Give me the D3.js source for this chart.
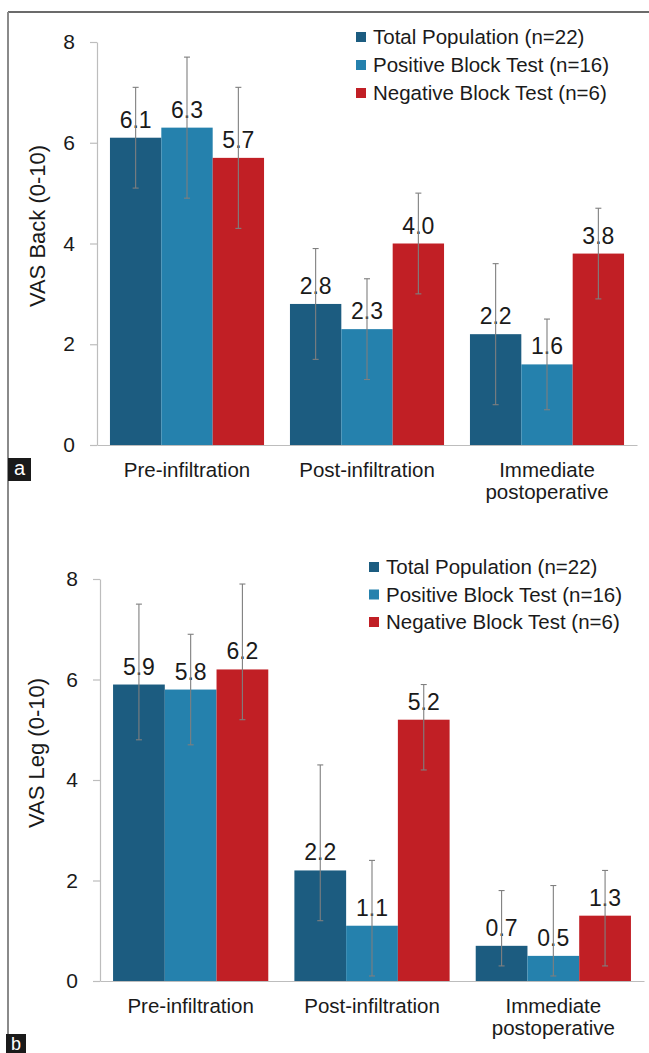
<!DOCTYPE html>
<html>
<head>
<meta charset="utf-8">
<script src="https://cdn.jsdelivr.net/npm/d3@7"></script>
<style>
  html, body { margin: 0; padding: 0; background: #fff; }
  svg { display: block; font-family: "Liberation Sans", Arial, sans-serif; }
</style>
</head>
<body>
<svg id="chart" width="649" height="1053"></svg>
<script>
// ---- data ----
const categories = ["Pre-infiltration", "Post-infiltration", "Immediate\npostoperative"];
const seriesNames = ["Total Population (n=22)", "Positive Block Test (n=16)", "Negative Block Test (n=6)"];
const seriesColors = ["#1c5c80", "#2581ad", "#c11f25"];
const yTicks = [0, 2, 4, 6, 8];

// Panel a: VAS Back
const backTotal = [6.1, 2.8, 2.2];
const backPositive = [6.3, 2.3, 1.6];
const backNegative = [5.7, 4.0, 3.8];
const backTotalLow = [5.1, 1.7, 0.8];
const backTotalHigh = [7.1, 3.9, 3.6];
const backPositiveLow = [4.9, 1.3, 0.7];
const backPositiveHigh = [7.7, 3.3, 2.5];
const backNegativeLow = [4.3, 3.0, 2.9];
const backNegativeHigh = [7.1, 5.0, 4.7];

// Panel b: VAS Leg
const legTotal = [5.9, 2.2, 0.7];
const legPositive = [5.8, 1.1, 0.5];
const legNegative = [6.2, 5.2, 1.3];
const legTotalLow = [4.8, 1.2, 0.3];
const legTotalHigh = [7.5, 4.3, 1.8];
const legPositiveLow = [4.7, 0.1, 0.1];
const legPositiveHigh = [6.9, 2.4, 1.9];
const legNegativeLow = [5.2, 4.2, 0.3];
const legNegativeHigh = [7.9, 5.9, 2.2];

const svg = d3.select("#chart");
const FONT = "'Liberation Sans', Arial, sans-serif";

// frame lines
svg.append("line").attr("x1", 8).attr("x2", 649).attr("y1", 12).attr("y2", 12)
  .attr("stroke", "#3a3a3a").attr("stroke-width", 1.5);
svg.append("line").attr("x1", 8).attr("x2", 8).attr("y1", 12).attr("y2", 1053)
  .attr("stroke", "#8a8a8a").attr("stroke-width", 2);

function drawPanel(cfg) {
  const g = svg.append("g");
  const x0 = d3.scaleBand().domain(categories).range([cfg.left, cfg.right])
    .paddingInner(0.144).paddingOuter(0.072);
  const x1 = d3.scaleBand().domain(seriesNames).range([0, x0.bandwidth()]);
  const y = d3.scaleLinear().domain([0, 8]).range([cfg.bottom, cfg.top]);

  // y axis
  const ya = g.append("g").attr("transform", `translate(${cfg.left},0)`)
    .call(d3.axisLeft(y).tickValues(yTicks).tickSize(7).tickSizeOuter(0).tickPadding(15).tickFormat(d3.format("d")));
  ya.select(".domain").attr("stroke", "#bdbdbd").attr("stroke-width", 1.2);
  ya.selectAll(".tick line").attr("stroke", "#bdbdbd").attr("stroke-width", 1.2);
  ya.selectAll(".tick text").attr("fill", "#1a1a1a").style("font-size", "21px").style("font-family", FONT);

  // x axis line
  const xa = g.append("g").attr("transform", `translate(0,${cfg.bottom})`)
    .call(d3.axisBottom(x0).tickSize(0).tickFormat(""));
  xa.select(".domain").attr("stroke", "#bdbdbd").attr("stroke-width", 1.2);

  // bars
  const rows = categories.map((c, i) => ({
    cat: c,
    vals: seriesNames.map((s, j) => ({
      s, v: cfg.values[j][i], lo: cfg.lows[j][i], hi: cfg.highs[j][i], color: seriesColors[j]
    }))
  }));
  const grp = g.selectAll(".grp").data(rows).join("g")
    .attr("transform", d => `translate(${x0(d.cat)},0)`);
  grp.selectAll("rect").data(d => d.vals).join("rect")
    .attr("x", d => x1(d.s)).attr("width", x1.bandwidth())
    .attr("y", d => y(d.v)).attr("height", d => y(0) - y(d.v))
    .attr("fill", d => d.color);

  // value labels
  grp.selectAll("text.val").data(d => d.vals).join("text").attr("class", "val")
    .attr("x", d => x1(d.s) + x1.bandwidth() / 2)
    .attr("y", d => y(d.v) - 10)
    .attr("text-anchor", "middle")
    .attr("fill", "#1a1a1a")
    .style("font-size", "23px").style("font-family", FONT)
    .text(d => d3.format(".1f")(d.v));

  // error bars
  const eb = grp.selectAll("g.err").data(d => d.vals).join("g").attr("class", "err")
    .attr("stroke", "#7f7f7f").attr("stroke-width", 1.1);
  eb.append("line")
    .attr("x1", d => x1(d.s) + x1.bandwidth() / 2).attr("x2", d => x1(d.s) + x1.bandwidth() / 2)
    .attr("y1", d => y(d.hi)).attr("y2", d => y(d.lo));
  eb.append("line")
    .attr("x1", d => x1(d.s) + x1.bandwidth() / 2 - 3).attr("x2", d => x1(d.s) + x1.bandwidth() / 2 + 3)
    .attr("y1", d => y(d.hi)).attr("y2", d => y(d.hi));
  eb.append("line")
    .attr("x1", d => x1(d.s) + x1.bandwidth() / 2 - 3).attr("x2", d => x1(d.s) + x1.bandwidth() / 2 + 3)
    .attr("y1", d => y(d.lo)).attr("y2", d => y(d.lo));

  // category labels
  const cl = g.selectAll("text.cat").data(categories).join("text").attr("class", "cat")
    .attr("text-anchor", "middle").attr("fill", "#1a1a1a")
    .style("font-size", "20.5px").style("font-family", FONT)
    .attr("transform", d => `translate(${x0(d) + x0.bandwidth() / 2},${cfg.bottom + 32})`);
  cl.selectAll("tspan").data(d => d.split("\n")).join("tspan")
    .attr("x", 0).attr("dy", (d, i) => i === 0 ? 0 : 22).text(d => d);

  // y title
  g.append("text")
    .attr("transform", `translate(${cfg.titleX},${cfg.titleY}) rotate(-90)`)
    .attr("text-anchor", "middle").attr("fill", "#1a1a1a")
    .style("font-size", "22px").style("font-family", FONT)
    .text(cfg.title);

  // legend
  const lg = g.selectAll("g.leg").data(seriesNames).join("g").attr("class", "leg")
    .attr("transform", (d, i) => `translate(${cfg.legX},${cfg.legY + i * cfg.legStep})`);
  lg.append("rect").attr("x", 0).attr("y", -5).attr("width", 10).attr("height", 10)
    .attr("fill", (d, i) => seriesColors[i]);
  lg.append("text").attr("x", 17).attr("y", 0).attr("dy", "0.35em")
    .attr("fill", "#1a1a1a").style("font-size", "20.5px").style("font-family", FONT)
    .text(d => d);

  // panel letter
  const pl = g.append("g");
  pl.append("rect").attr("x", cfg.letterBox[0]).attr("y", cfg.letterBox[1])
    .attr("width", cfg.letterBox[2]).attr("height", cfg.letterBox[3]).attr("fill", "#1a1a1a");
  pl.append("text").attr("x", cfg.letterBox[0] + cfg.letterBox[2] / 2).attr("y", cfg.letterBox[1] + cfg.letterBaseline)
    .attr("text-anchor", "middle").attr("fill", "#fff")
    .style("font-size", cfg.letterSize).style("font-family", FONT).text(cfg.letter);
}

drawPanel({
  left: 97, right: 637, top: 42, bottom: 445,
  values: [backTotal, backPositive, backNegative],
  lows: [backTotalLow, backPositiveLow, backNegativeLow],
  highs: [backTotalHigh, backPositiveHigh, backNegativeHigh],
  title: "VAS Back (0-10)", titleX: 45, titleY: 226,
  legX: 356, legY: 37, legStep: 28,
  letter: "a", letterBox: [8, 458, 23, 23], letterBaseline: 17, letterSize: "20px"
});

drawPanel({
  left: 100, right: 644, top: 579, bottom: 981,
  values: [legTotal, legPositive, legNegative],
  lows: [legTotalLow, legPositiveLow, legNegativeLow],
  highs: [legTotalHigh, legPositiveHigh, legNegativeHigh],
  title: "VAS Leg (0-10)", titleX: 44, titleY: 753,
  legX: 369, legY: 567, legStep: 27.5,
  letter: "b", letterBox: [6, 1034, 20, 19], letterBaseline: 16, letterSize: "18px"
});
</script>
</body>
</html>
